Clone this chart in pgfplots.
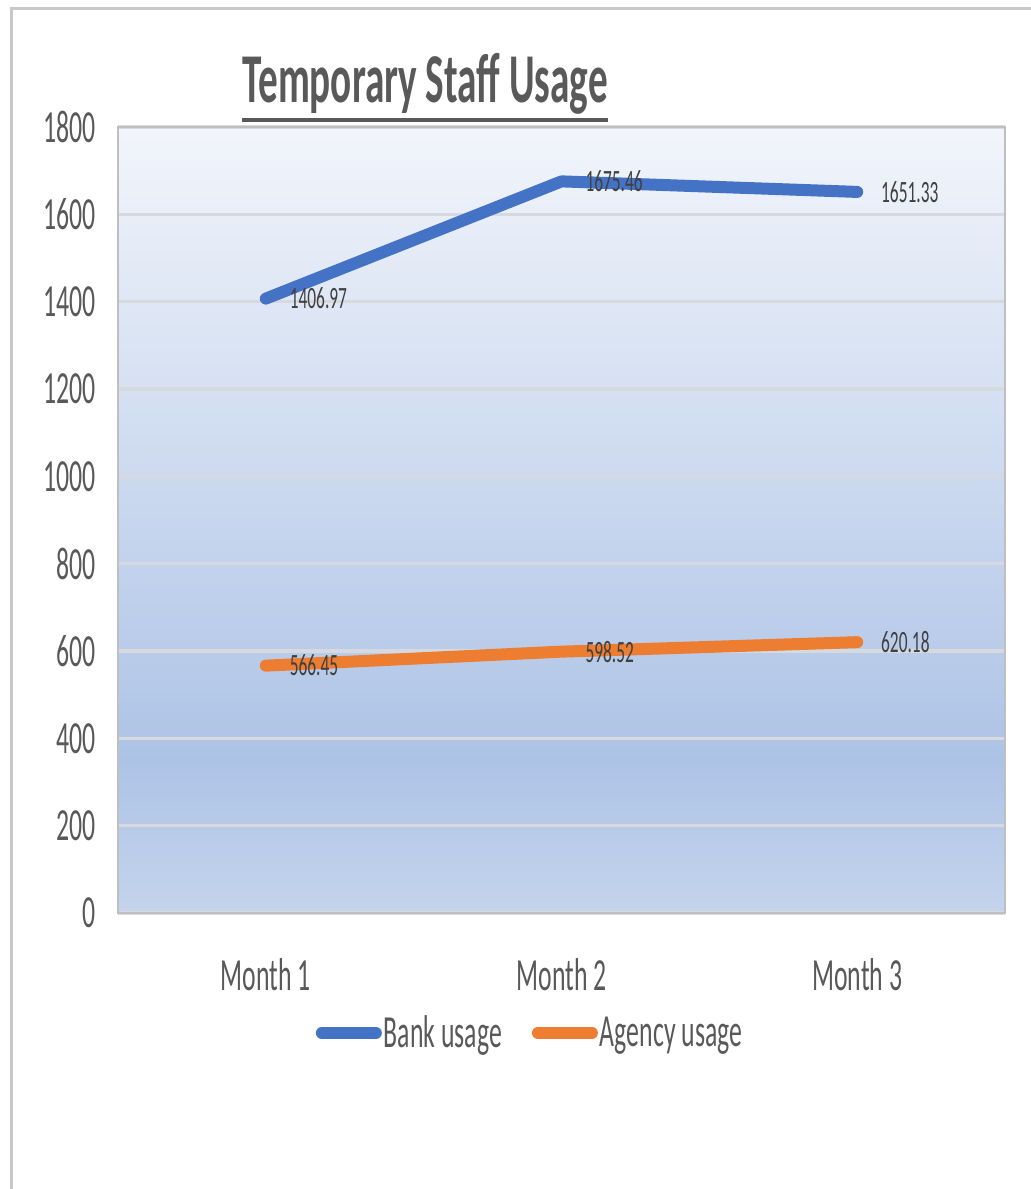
\documentclass[border=0pt]{standalone}
\usepackage{fontspec}
\setmainfont{Carlito}[FakeStretch=0.56]
\usepackage{pgfplots}
\pgfplotsset{compat=1.18}

\definecolor{bankblue}{HTML}{4472C4}
\definecolor{agencyorange}{HTML}{ED7D31}
\definecolor{ticktext}{HTML}{595959}
\definecolor{labeltext}{HTML}{404040}
\definecolor{gridgray}{HTML}{D6D9DE}
\definecolor{boxgray}{HTML}{BFBFBF}
\definecolor{framegray}{HTML}{C8C8C8}
\definecolor{bgtop}{RGB}{242,245,251}
\definecolor{bgdark}{RGB}{173,195,230}
\definecolor{bgbottom}{RGB}{196,212,236}

% plot-area fill: pale at the top, deepest blue near the bottom, lighter again at the base
\pgfdeclareverticalshading{plotgrad}{100bp}{%
  color(0bp)=(bgbottom); color(25bp)=(bgbottom); color(34.7bp)=(bgdark);
  color(75bp)=(bgtop); color(100bp)=(bgtop)}

\begin{document}
\begin{tikzpicture}
\useasboundingbox (0,0) rectangle (515.5pt,594.5pt);
% outer chart frame
\draw[framegray, line width=1.5pt] (5.75pt,0) -- (5.75pt,590.25pt) -- (515.5pt,590.25pt);

% title
\node[anchor=base, inner sep=0pt, text=ticktext, font=\fontsize{35}{35}\selectfont\bfseries]
  (title) at (212.5pt,543pt) {Temporary Staff Usage};
\draw[ticktext, line width=2pt] ([yshift=-2.5pt]title.south west) -- ([yshift=-2.5pt]title.south east);

\begin{axis}[
  at={(59pt,138pt)}, anchor=south west,
  scale only axis, width=443.5pt, height=393pt,
  xmin=-0.5, xmax=2.5, ymin=0, ymax=1800,
  xtick={0,1,2}, xticklabels={Month 1, Month 2, Month 3},
  ytick={0,200,...,1800},
  ymajorgrids, major grid style={gridgray, line width=1.6pt},
  major tick length=0pt,
  axis line style={boxgray, line width=1pt},
  axis background/.style={shade, shading=plotgrad},
  /pgf/number format/.cd, 1000 sep={}, assume math mode=true, /pgfplots/.cd,
  tick label style={text=ticktext, font=\fontsize{23}{23}\selectfont},
  yticklabel style={anchor=east, inner sep=0pt, xshift=-11pt},
  xticklabel style={anchor=north, inner sep=0pt, yshift=-22.5pt},
  legend columns=2,
  legend style={at={(0.4645,-0.1527)}, anchor=center, draw=none, fill=none,
    font=\fontsize{23}{23}\selectfont, text=ticktext,
    nodes={inner xsep=1pt},
    /tikz/every even column/.append style={column sep=14pt}},
  legend image code/.code={\draw[#1, line cap=round] (0pt,0pt) -- (27pt,0pt);},
  legend cell align=left,
  nodes near coords={\pgfmathprintnumber[fixed, fixed zerofill, precision=2, 1000 sep={}]{\pgfplotspointmeta}},
  every node near coord/.append style={anchor=west, xshift=9pt, inner sep=0pt,
    text=labeltext, font=\fontsize{15.5}{15.5}\selectfont},
  clip=false,
]
\addplot[bankblue, line width=6pt, line cap=round, line join=round] coordinates {
  (0,1406.97) (1,1675.46) (2,1651.33)};
\addlegendentry{Bank usage}
\addplot[agencyorange, line width=6pt, line cap=round, line join=round] coordinates {
  (0,566.45) (1,598.52) (2,620.18)};
\addlegendentry{Agency usage}
\end{axis}
\end{tikzpicture}
\end{document}
